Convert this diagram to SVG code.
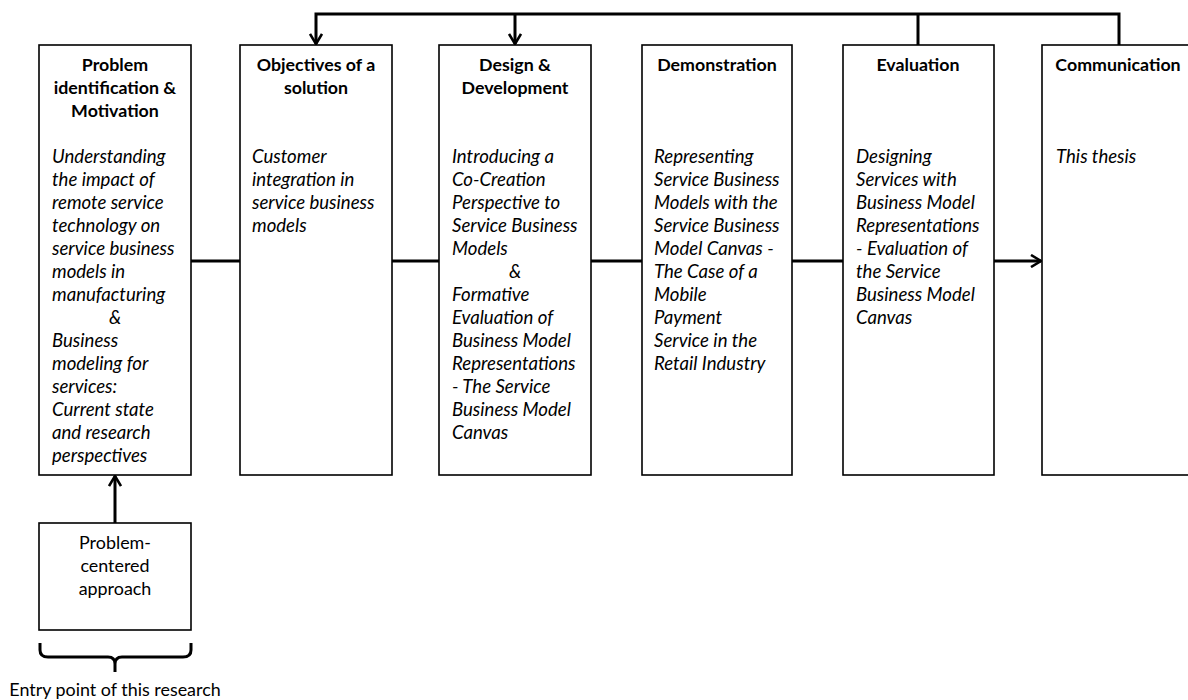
<svg xmlns="http://www.w3.org/2000/svg" width="1188" height="700" viewBox="0 0 1188 700">
<style>
.box{fill:#fff;stroke:#000;stroke-width:1.6}
.ttl{font-family:Lato,"Open Sans",sans-serif;font-weight:bold;font-size:17.8px;text-anchor:middle;fill:#000}
.bd{font-family:Lato,"Open Sans",sans-serif;font-style:italic;font-size:18.6px;fill:#000}
.nm{font-family:Lato,"Open Sans",sans-serif;font-size:17.9px;fill:#000;text-anchor:middle}
.c{text-anchor:middle}
.ln{fill:none;stroke:#000;stroke-width:3}
</style>
<defs>
<marker id="ah" viewBox="0 0 14 14" refX="12" refY="7" markerWidth="14" markerHeight="14" markerUnits="userSpaceOnUse" orient="auto">
<path d="M2,1 L12,7 L2,13" fill="none" stroke="#000" stroke-width="2.6"/>
</marker>
</defs>
<g id="connectors">
<path class="ln" d="M191,261 H240"/>
<path class="ln" d="M392,261 H439"/>
<path class="ln" d="M591,261 H642"/>
<path class="ln" d="M792,261 H843"/>
<path class="ln" d="M994,261 H1041" marker-end="url(#ah)"/>
<path class="ln" d="M1119,45 V14 H316 V44" marker-end="url(#ah)"/>
<path class="ln" d="M515,14 V44" marker-end="url(#ah)"/>
<path class="ln" d="M918,45 V14"/>
<path class="ln" d="M115,523 V476" marker-end="url(#ah)"/>
<path class="ln" d="M40,643 V650 Q40,657 48,657 H108 Q115,657 115,664 V672 M115,664 Q115,657 122,657 H183 Q191,657 191,650 V643"/>
</g>
<g id="n1">
<rect class="box" x="39" y="45" width="152" height="430"/>
<text class="ttl"><tspan x="115" y="71">Problem</tspan><tspan x="115" y="94">identification &amp;</tspan><tspan x="115" y="117">Motivation</tspan></text>
<text class="bd"><tspan x="52" y="163">Understanding</tspan><tspan x="52" y="186">the impact of</tspan><tspan x="52" y="209">remote service</tspan><tspan x="52" y="232">technology on</tspan><tspan x="52" y="255">service business</tspan><tspan x="52" y="278">models in</tspan><tspan x="52" y="301">manufacturing</tspan><tspan x="115" y="324" class="c">&amp;</tspan><tspan x="52" y="347">Business</tspan><tspan x="52" y="370">modeling for</tspan><tspan x="52" y="393">services:</tspan><tspan x="52" y="416">Current state</tspan><tspan x="52" y="439">and research</tspan><tspan x="52" y="462">perspectives</tspan></text>
</g>
<g id="n2">
<rect class="box" x="240" y="45" width="152" height="430"/>
<text class="ttl"><tspan x="316" y="71">Objectives of a</tspan><tspan x="316" y="94">solution</tspan></text>
<text class="bd"><tspan x="252" y="163">Customer</tspan><tspan x="252" y="186">integration in</tspan><tspan x="252" y="209">service business</tspan><tspan x="252" y="232">models</tspan></text>
</g>
<g id="n3">
<rect class="box" x="439" y="45" width="152" height="430"/>
<text class="ttl"><tspan x="515" y="71">Design &amp;</tspan><tspan x="515" y="94">Development</tspan></text>
<text class="bd"><tspan x="452" y="163">Introducing a</tspan><tspan x="452" y="186">Co-Creation</tspan><tspan x="452" y="209">Perspective to</tspan><tspan x="452" y="232">Service Business</tspan><tspan x="452" y="255">Models</tspan><tspan x="515" y="278" class="c">&amp;</tspan><tspan x="452" y="301">Formative</tspan><tspan x="452" y="324">Evaluation of</tspan><tspan x="452" y="347">Business Model</tspan><tspan x="452" y="370">Representations</tspan><tspan x="452" y="393">- The Service</tspan><tspan x="452" y="416">Business Model</tspan><tspan x="452" y="439">Canvas</tspan></text>
</g>
<g id="n4">
<rect class="box" x="642" y="45" width="150" height="430"/>
<text class="ttl"><tspan x="717" y="71">Demonstration</tspan></text>
<text class="bd"><tspan x="654" y="163">Representing</tspan><tspan x="654" y="186">Service Business</tspan><tspan x="654" y="209">Models with the</tspan><tspan x="654" y="232">Service Business</tspan><tspan x="654" y="255">Model Canvas -</tspan><tspan x="654" y="278">The Case of a</tspan><tspan x="654" y="301">Mobile</tspan><tspan x="654" y="324">Payment</tspan><tspan x="654" y="347">Service in the</tspan><tspan x="654" y="370">Retail Industry</tspan></text>
</g>
<g id="n5">
<rect class="box" x="843" y="45" width="151" height="430"/>
<text class="ttl"><tspan x="918" y="71">Evaluation</tspan></text>
<text class="bd"><tspan x="856" y="163">Designing</tspan><tspan x="856" y="186">Services with</tspan><tspan x="856" y="209">Business Model</tspan><tspan x="856" y="232">Representations</tspan><tspan x="856" y="255">- Evaluation of</tspan><tspan x="856" y="278">the Service</tspan><tspan x="856" y="301">Business Model</tspan><tspan x="856" y="324">Canvas</tspan></text>
</g>
<g id="n6">
<rect class="box" x="1042" y="45" width="152" height="430"/>
<text class="ttl"><tspan x="1118" y="71">Communication</tspan></text>
<text class="bd"><tspan x="1056" y="163">This thesis</tspan></text>
</g>
<g id="n7">
<rect class="box" x="39" y="523" width="152" height="107"/>
<text class="nm"><tspan x="115" y="549">Problem-</tspan><tspan x="115" y="572">centered</tspan><tspan x="115" y="595">approach</tspan></text>
</g>
<g id="entry">
<text class="nm" x="115" y="696">Entry point of this research</text>
</g>
</svg>
